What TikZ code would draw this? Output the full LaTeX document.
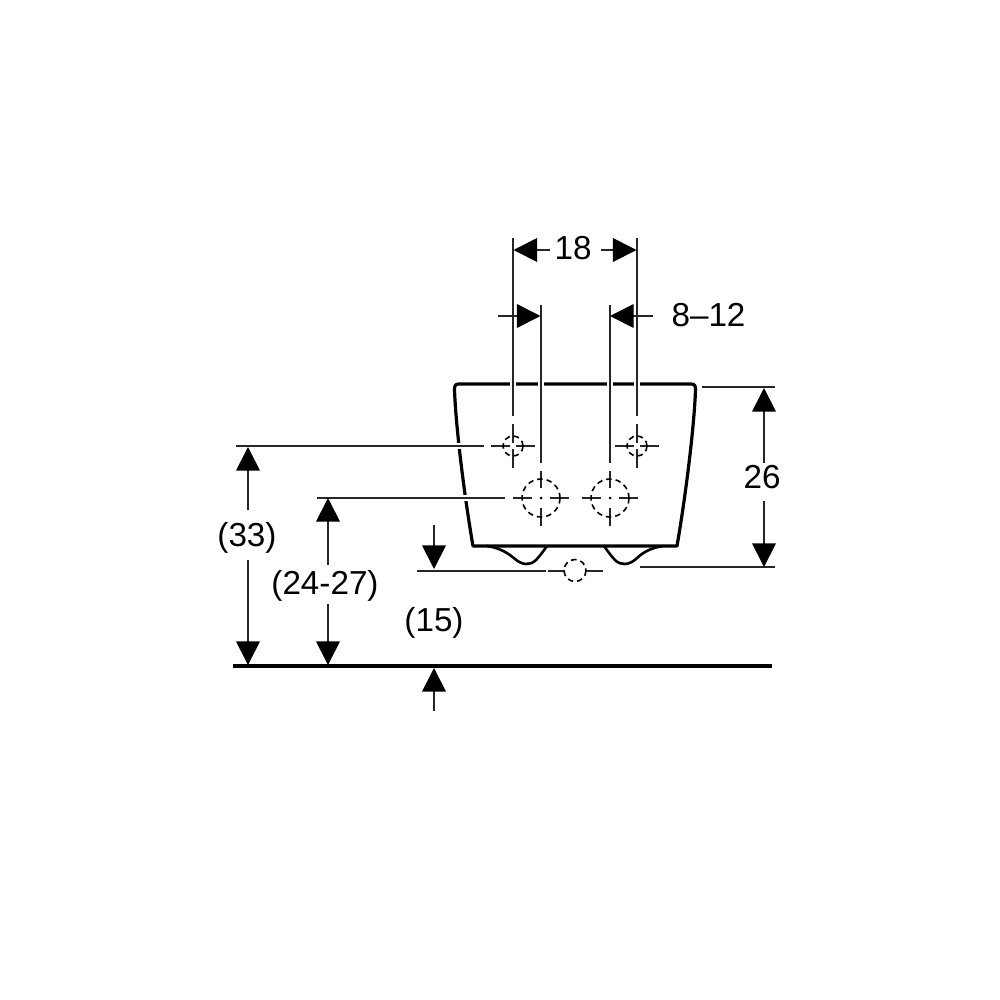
\documentclass[tikz,border=0pt]{standalone}
\usepackage{fontspec}
\setmainfont{Liberation Sans}
\usetikzlibrary{arrows.meta}
\tikzset{
  thin line/.style={line width=0.18mm,black!85},
  halo/.style={line width=0.55mm,white},
  outline/.style={line width=0.32mm,black,line join=round},
  base line/.style={line width=0.36mm,black},
  holes/.style={line width=0.16mm,black,dash pattern=on 0.55mm off 0.4mm},
  dim/.style={line width=0.18mm,black!85,-{Triangle[length=2.35mm,width=2.35mm,black]}},
  label/.style={font=\fontsize{9.45pt}{11pt}\selectfont,inner sep=0pt,text=black}
}
\newcommand{\crossbig}[2]{%
  \draw[thin line] (#1-28,#2)--(#1-9,#2) (#1+9,#2)--(#1+28,#2) (#1,#2-27)--(#1,#2-10) (#1,#2+10)--(#1,#2+28);
  \fill (#1,#2) circle (1.5);
  \draw[holes] (#1,#2) circle (19);
}
\newcommand{\crosssmall}[2]{%
  \draw[thin line] (#1-22,#2)--(#1-3,#2) (#1+3,#2)--(#1+22,#2) (#1,#2-22)--(#1,#2-3) (#1,#2+3)--(#1,#2+22);
  \draw[holes] (#1,#2) circle (10);
}
\begin{document}
\begin{tikzpicture}[x=0.01cm,y=-0.01cm]
\useasboundingbox (0,0) rectangle (1000,1000);
% body
\draw[outline] (473,546) .. controls (465,500) and (456,430) .. (454.5,390) .. controls (454.5,386) and (455,384) .. (459,384)
  -- (691,384) .. controls (695,384) and (695.5,386) .. (695.5,390) .. controls (694,430) and (685,500) .. (677,546) -- cycle;
\draw[line width=0.26mm,line join=round] (487,546) .. controls (500,548) and (508,553) .. (515,559) .. controls (522,565) and (530,566) .. (536,560) .. controls (540,556) and (544,550) .. (547,546);
\draw[line width=0.26mm,line join=round] (604,546) .. controls (607,550) and (611,556) .. (615,560) .. controls (621,566) and (629,565) .. (636,559) .. controls (642,553) and (650,548) .. (663,546);
% white gaps and extension lines
\draw[halo] (513,378)--(513,390) (541,378)--(541,390) (610,378)--(610,390) (637,378)--(637,390) (450,446)--(470,446) (455,498)--(475,498);
\draw[thin line] (513,238)--(513,416) (637,238)--(637,416);
\draw[thin line] (541,305)--(541,463) (610,305)--(610,463);
\draw[thin line] (236,446)--(484,446) (317,498)--(505,498) (417,571)--(546,571) (640,567)--(775,567) (702,387)--(775,387);
% holes
\crosssmall{513}{446}
\crosssmall{637}{446}
\crossbig{541}{498}
\crossbig{610}{498}
\draw[thin line] (548,571)--(565,571) (586,571)--(603,571);
\draw[holes] (575,570.5) circle (11);
% floor
\draw[base line] (233,666)--(772,666);
% dimensions
\draw[dim] (550,250)--(513.5,250);
\draw[dim] (601,250)--(636.5,250);
\draw[dim] (498,316)--(540.5,316);
\draw[dim] (653,316)--(610,316);
\draw[dim] (764,463)--(764,388);
\draw[dim] (764,501)--(764,567);
\draw[dim] (248,510)--(248,447);
\draw[dim] (248,560)--(248,665);
\draw[dim] (328,565)--(328,498);
\draw[dim] (328,604)--(328,665);
\draw[dim] (434,525)--(434,569);
\draw[dim] (434,711)--(434,668);
% labels
\node[label] (d18) at (573,248) {18};
\node[label] (d812) at (708.5,315) {8–12};
\node[label] (d26) at (762,477) {26};
\node[label] (d33) at (247,537.5) {(33)};
\node[label] (d2427) at (325,586) {(24-27)};
\node[label] (d15) at (434,622.5) {(15)};
\end{tikzpicture}
\end{document}
